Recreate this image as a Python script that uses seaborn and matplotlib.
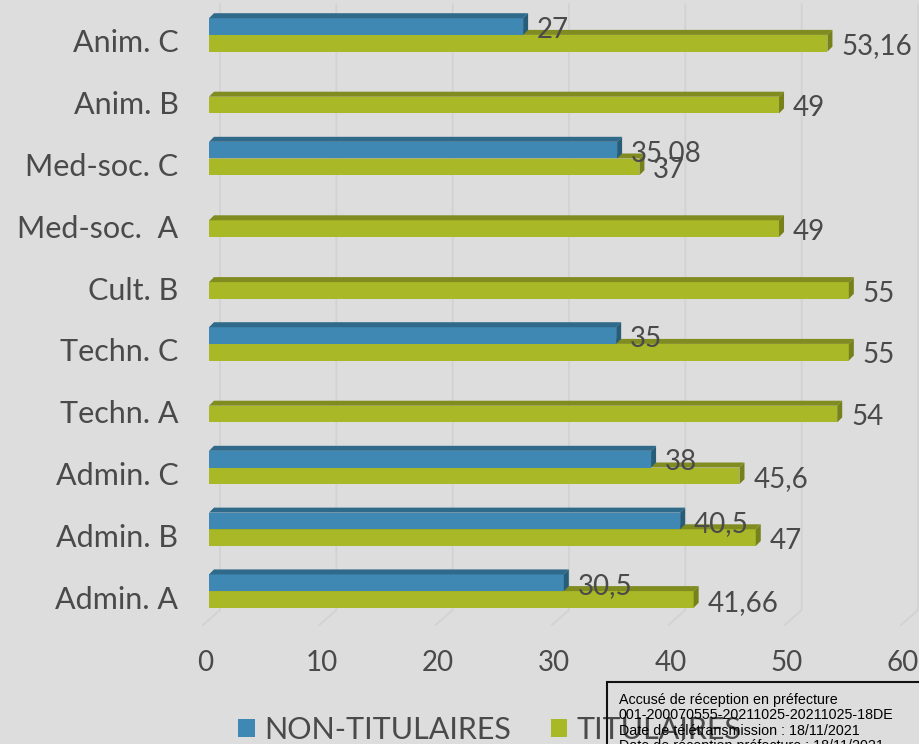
import matplotlib
matplotlib.use('Agg')
import matplotlib.pyplot as plt
from matplotlib.patches import Polygon, Rectangle
from matplotlib.transforms import ScaledTranslation
import pandas as pd
import seaborn as sns

# données du graphique
categories = ['Anim. C', 'Anim. B', 'Med-soc. C', 'Med-soc.  A', 'Cult. B',
              'Techn. C', 'Techn. A', 'Admin. C', 'Admin. B', 'Admin. A']
non_titulaires = [27, None, 35.08, None, None, 35, None, 38, 40.5, 30.5]
titulaires = [53.16, 49, 37, 49, 55, 55, 54, 45.6, 47, 41.66]
series = ['NON-TITULAIRES', 'TITULAIRES']
x_ticks = [0, 10, 20, 30, 40, 50, 60]

front = {'NON-TITULAIRES': '#3f88b3', 'TITULAIRES': '#a9b826'}
top_col = {'NON-TITULAIRES': '#2f6a8b', 'TITULAIRES': '#808b20'}
side_col = {'NON-TITULAIRES': '#285d7a', 'TITULAIRES': '#76811b'}
TXT = '#4a4a4a'
BG = '#dddddd'

rows = []
for cat, a, b in zip(categories, non_titulaires, titulaires):
    if a is not None:
        rows.append((cat, series[0], a))
    rows.append((cat, series[1], b))
df = pd.DataFrame(rows, columns=['categorie', 'statut', 'valeur'])


def fmt(v):
    return f'{v:g}'.replace('.', ',')


sns.set_theme(style='white')
plt.rcParams['font.family'] = ['Lato', 'DejaVu Sans']

fig = plt.figure(figsize=(9.2, 7.44), dpi=100, facecolor=BG)
ax = fig.add_axes([209 / 920, 1 - 622 / 744, 698 / 920, 618 / 744])
ax.set_facecolor('none')

sns.barplot(data=df, x='valeur', y='categorie', hue='statut', order=categories,
            hue_order=series, palette=front, width=0.54, orient='h',
            saturation=1, linewidth=0, errorbar=None, ax=ax)
handles, labels = ax.get_legend_handles_labels()
ax.get_legend().remove()

ax.set_xlim(0, 60)
ax.set_ylim(9.5, -0.5)

# effet 3D : faces du dessus et du côté
px_x = ax.get_window_extent().width / 60
px_y = ax.get_window_extent().height / 10
dx = 5 / px_x
dy = 5 / px_y
for i, (name, cont) in enumerate(zip(series, ax.containers)):
    z = 4 if i == 0 else 2
    for p in cont.patches:
        p.set_zorder(z)
        x0, w = p.get_x(), p.get_width()
        top, bot = p.get_y(), p.get_y() + p.get_height()
        ax.add_patch(Polygon([(x0, top), (x0 + dx, top - dy), (x0 + w + dx, top - dy), (x0 + w, top)],
                             closed=True, facecolor=top_col[name], lw=0, zorder=z + 0.5))
        ax.add_patch(Polygon([(x0 + w, top), (x0 + w + dx, top - dy), (x0 + w + dx, bot - dy), (x0 + w, bot)],
                             closed=True, facecolor=side_col[name], lw=0, zorder=z + 0.5))
    texts = ax.bar_label(cont, labels=[fmt(v) for v in cont.datavalues], padding=10,
                         fontsize=20, color=TXT, zorder=6)
    for t in texts:
        t.xyann = (10, -2.3)

# quadrillage (mur du fond + sol)
for v in x_ticks:
    ax.plot([v + 11 / px_x, v + 11 / px_x, v - 6 / px_x], [1, 12 / 618, -3 / 618],
            transform=ax.get_xaxis_transform(), color='#d2d2d2', lw=1.3,
            zorder=0, clip_on=False)

for s in ax.spines.values():
    s.set_visible(False)
ax.set_xlabel('')
ax.set_ylabel('')
ax.set_xticks(x_ticks)
ax.set_xticklabels([str(t) for t in x_ticks])
ax.tick_params(axis='x', length=0, pad=20, labelsize=20, labelcolor=TXT)
ax.tick_params(axis='y', length=0, pad=22, labelsize=22, labelcolor=TXT)
for lbl in ax.get_yticklabels():
    lbl.set_transform(lbl.get_transform() + ScaledTranslation(0, -0.06, fig.dpi_scale_trans))
for lbl in ax.get_xticklabels():
    lbl.set_transform(lbl.get_transform() + ScaledTranslation(-0.04, 0, fig.dpi_scale_trans))

fig.legend(handles, labels, loc='center left', bbox_to_anchor=(238 / 920, 1 - 730 / 744),
           ncol=2, frameon=False, fontsize=22, labelcolor=TXT, handlelength=0.55,
           handleheight=0.55, handletextpad=0.3, columnspacing=1.3,
           borderpad=0, borderaxespad=0)

# tampon de télétransmission
fig.patches.append(Rectangle((607 / 920, -0.01), 0.4, (744 - 682) / 744 + 0.01,
                             transform=fig.transFigure, fill=False,
                             edgecolor='#111111', lw=1.5, zorder=10))
stamp = ['Accusé de réception en préfecture',
         '001-200070555-20211025-20211025-18DE',
         'Date de télétransmission : 18/11/2021',
         'Date de réception préfecture : 18/11/2021']
for k, line in enumerate(stamp):
    fig.text(619 / 920, 1 - (700 + 15.3 * k) / 744, line, family='Liberation Sans',
             fontsize=10.3, color='black', va='center', ha='left', zorder=11)

fig.savefig('out.png', dpi=100, facecolor=BG)
